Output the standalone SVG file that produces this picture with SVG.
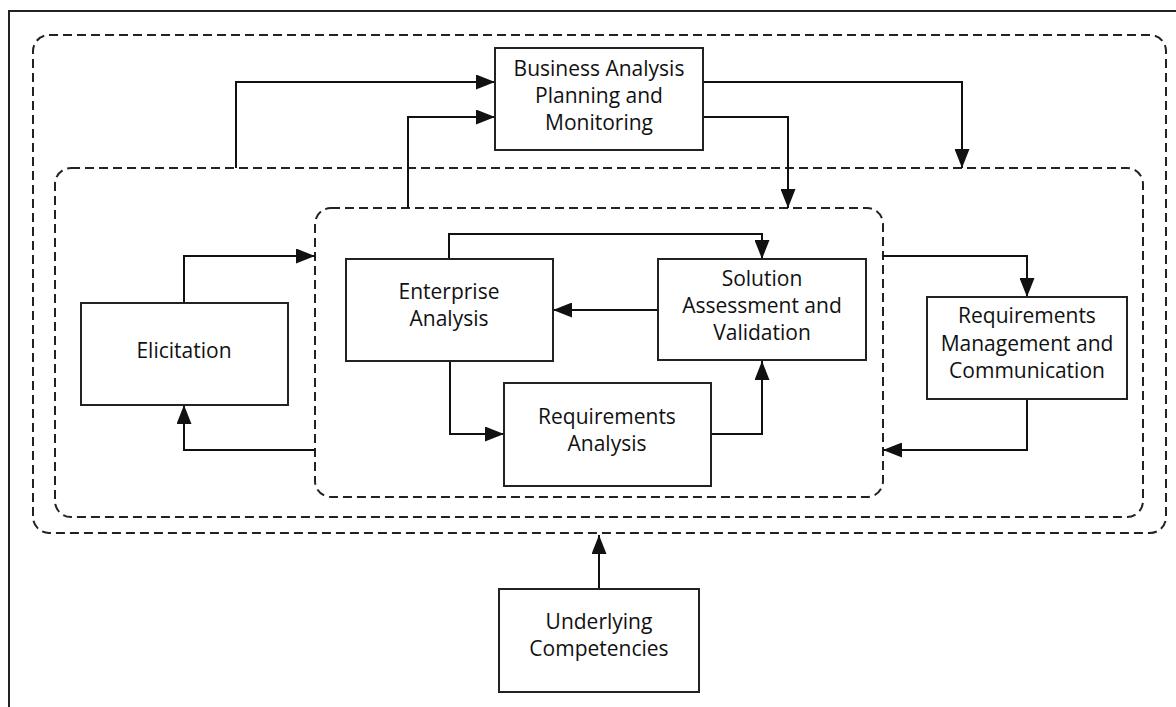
<svg xmlns="http://www.w3.org/2000/svg" width="1176" height="707" viewBox="0 0 1176 707">
<style>
.frame{fill:none;stroke:#222;stroke-width:2}
.dash{fill:none;stroke:#222;stroke-width:2;stroke-dasharray:9 5}
.box{fill:#fff;stroke:#222;stroke-width:2}
.conn{fill:none;stroke:#111;stroke-width:2}
text{font-family:"Open Sans","Noto Sans",sans-serif;font-size:21px;fill:#111;text-anchor:middle}
</style>
<defs>
<marker id="ah" markerWidth="19" markerHeight="15" refX="19" refY="7.5" orient="auto" markerUnits="userSpaceOnUse">
<path d="M0,0 L19,7.5 L0,15 Z" fill="#111"/>
</marker>
</defs>
<rect width="1176" height="707" fill="#fff"/>
<path class="frame" d="M9,710 L9,11 L1180,11"/>
<g id="containers">
<rect class="dash" x="33" y="35" width="1133" height="498" rx="16"/>
<rect class="dash" x="55" y="168" width="1088" height="349" rx="16"/>
<rect class="dash" x="315" y="208" width="568" height="289" rx="16"/>
</g>
<g id="connectors">
<path class="conn" d="M236,168 V82 H495" marker-end="url(#ah)"/>
<path class="conn" d="M408,208 V117 H495" marker-end="url(#ah)"/>
<path class="conn" d="M703,82 H962 V168" marker-end="url(#ah)"/>
<path class="conn" d="M703,117 H788 V208" marker-end="url(#ah)"/>
<path class="conn" d="M449,259 V234 H762 V259" marker-end="url(#ah)"/>
<path class="conn" d="M658,310 H553" marker-end="url(#ah)"/>
<path class="conn" d="M184,303 V256 H315" marker-end="url(#ah)"/>
<path class="conn" d="M315,450 H184 V405" marker-end="url(#ah)"/>
<path class="conn" d="M450,361 V434 H504" marker-end="url(#ah)"/>
<path class="conn" d="M711,434 H762 V361" marker-end="url(#ah)"/>
<path class="conn" d="M883,256 H1027 V297" marker-end="url(#ah)"/>
<path class="conn" d="M1027,399 V450 H883" marker-end="url(#ah)"/>
<path class="conn" d="M599,589 V535" marker-end="url(#ah)"/>
</g>
<g id="bapm">
<rect class="box" x="495" y="48" width="208" height="102"/>
<text x="599" y="76">Business Analysis</text>
<text x="599" y="103">Planning and</text>
<text x="599" y="130">Monitoring</text>
</g>
<g id="enterprise">
<rect class="box" x="346" y="259" width="207" height="102"/>
<text x="449" y="299">Enterprise</text>
<text x="449" y="326">Analysis</text>
</g>
<g id="solution">
<rect class="box" x="658" y="259" width="208" height="101"/>
<text x="762" y="286">Solution</text>
<text x="762" y="313">Assessment and</text>
<text x="762" y="340">Validation</text>
</g>
<g id="elicitation">
<rect class="box" x="81" y="303" width="207" height="102"/>
<text x="184" y="358">Elicitation</text>
</g>
<g id="reqanalysis">
<rect class="box" x="504" y="383" width="207" height="103"/>
<text x="607" y="424">Requirements</text>
<text x="607" y="451">Analysis</text>
</g>
<g id="rmc">
<rect class="box" x="927" y="297" width="200" height="102"/>
<text x="1027" y="323">Requirements</text>
<text x="1027" y="351">Management and</text>
<text x="1027" y="378">Communication</text>
</g>
<g id="underlying">
<rect class="box" x="499" y="589" width="200" height="103"/>
<text x="599" y="629">Underlying</text>
<text x="599" y="656">Competencies</text>
</g>
</svg>
